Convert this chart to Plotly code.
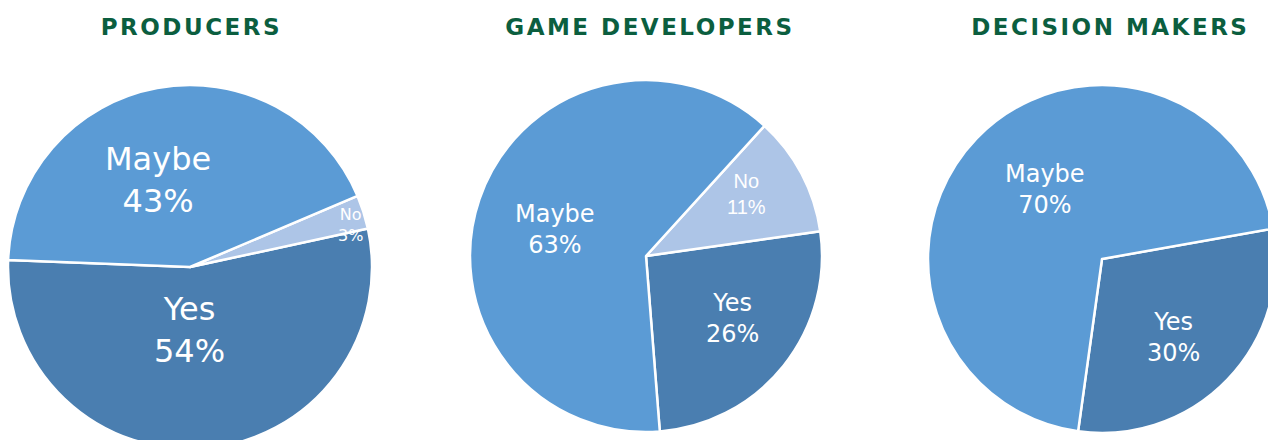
import math
import plotly.graph_objects as go

# Survey answers per audience group
groups = ["PRODUCERS", "GAME DEVELOPERS", "DECISION MAKERS"]
answers_1 = ["Yes", "No", "Maybe"]
values_1 = [54, 3, 43]
answers_2 = ["Yes", "No", "Maybe"]
values_2 = [26, 11, 63]
answers_3 = ["Yes", "Maybe"]
values_3 = [30, 70]

COLORS = {"Yes": "#4a7eb0", "No": "#adc5e7", "Maybe": "#5b9bd5"}
TITLE_GREEN = "#0b5e3f"

W, H = 1290, 460

# pie boxes in pixels (left, right, top, bottom); rotation is the boundary
# between the first and second slice for the counterclockwise layout
pies = [
    dict(labels=answers_1, values=values_1, box=(8, 372, 85, 449), rot=77.8,
         size=[32, 16, 32], fam=["DejaVu Sans", "DejaVu Sans", "DejaVu Sans"],
         k=[0.346, 0.909, 0.507], nudge=[-5.9, -2.9, 9.9]),
    dict(labels=answers_2, values=values_2, box=(470, 822, 80, 432), rot=81.9,
         size=[24, 20, 24], fam=["DejaVu Sans", "Liberation Sans", "DejaVu Sans"],
         k=[0.610, 0.673, 0.539], nudge=[2.8, 3.6, 2.4]),
    dict(labels=answers_3, values=values_3, box=(928, 1276, 85, 433), rot=79.9,
         size=[24, 24], fam=["DejaVu Sans", "DejaVu Sans"],
         k=[0.610, 0.519], nudge=[-4.1, -6.9]),
]

fig = go.Figure()

for p in pies:
    x0, x1, y0, y1 = p["box"]
    fig.add_trace(go.Pie(
        labels=p["labels"],
        values=p["values"],
        sort=False,
        direction="counterclockwise",
        rotation=p["rot"],
        domain=dict(x=[x0 / W, x1 / W], y=[1 - y1 / H, 1 - y0 / H]),
        marker=dict(colors=[COLORS[l] for l in p["labels"]],
                    line=dict(color="white", width=2.5)),
        textinfo="none",
        hoverinfo="label+value",
        showlegend=False,
    ))

    # slice labels placed along each slice's mid angle
    cx, cy = (x0 + x1) / 2, (y0 + y1) / 2
    r = (x1 - x0) / 2
    total = sum(p["values"])
    start_cw = p["rot"] + p["values"][0] / total * 360
    cum = 0
    for lab, v, k, nd, sz, fam in zip(p["labels"], p["values"], p["k"], p["nudge"],
                                      p["size"], p["fam"]):
        mid_cw = start_cw - (cum + v / 2) / total * 360
        cum += v
        ang = math.radians(90 - mid_cw + nd)
        px = cx + k * r * math.cos(ang)
        py = cy - k * r * math.sin(ang)
        fig.add_annotation(
            text=f"{lab}<br>{v}%", x=px / W, y=1 - py / H, xref="paper", yref="paper",
            showarrow=False, xanchor="center", yanchor="middle", align="center",
            font=dict(family=fam, size=sz, color="white"),
        )

title_x = [191, 650, 1110]
for name, tx in zip(groups, title_x):
    fig.add_annotation(
        text="<b>" + name + "</b>", x=tx / W, y=1 - 27 / H, xref="paper", yref="paper",
        showarrow=False, xanchor="center", yanchor="middle",
        font=dict(family="DejaVu Sans", size=23, color=TITLE_GREEN),
        name="group-title",
    )

fig.update_layout(
    width=W, height=H,
    margin=dict(l=0, r=0, t=0, b=0),
    paper_bgcolor="white", plot_bgcolor="white",
)

fig.write_html(
    "out.html",
    post_script=(
        "document.body.style.margin='0';document.body.style.overflow='hidden';"
        "document.querySelectorAll('.annotation-text').forEach(function(t){"
        "if(t.textContent===t.textContent.toUpperCase()&&t.textContent.length>8)"
        "{t.style.letterSpacing='2.5px';}});"
    ),
)
